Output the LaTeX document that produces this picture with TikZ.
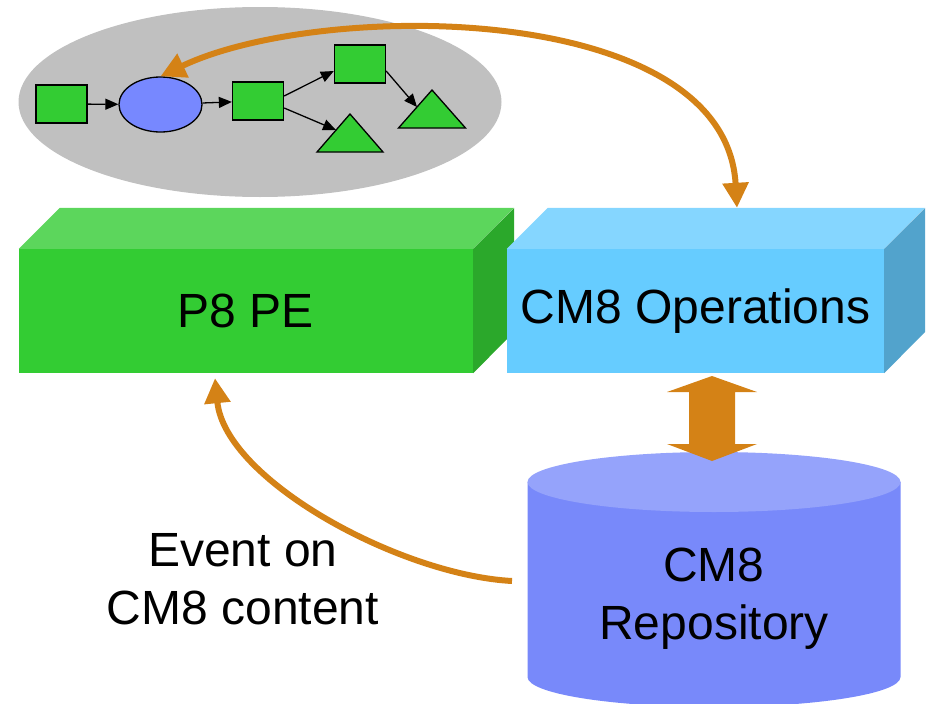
\documentclass[tikz,border=0pt]{standalone}
\usepackage{fontspec}
\setmainfont{Liberation Sans}
\usepackage{tikz}
\usetikzlibrary{positioning,shapes.geometric,arrows.meta,calc}

\definecolor{poolgray}{RGB}{192,192,192}
\definecolor{stepgreen}{RGB}{51,204,51}
\definecolor{evblue}{RGB}{119,136,255}
\definecolor{flowor}{RGB}{212,130,22}
\definecolor{pefront}{RGB}{51,204,51}
\definecolor{petop}{RGB}{92,214,92}
\definecolor{peside}{RGB}{43,168,43}
\definecolor{opsfront}{RGB}{102,204,255}
\definecolor{opstop}{RGB}{133,214,255}
\definecolor{opsside}{RGB}{82,163,204}
\definecolor{dbbody}{RGB}{120,137,250}
\definecolor{dbtop}{RGB}{149,163,251}

\tikzset{
  task/.style={draw, line width=1.3pt, fill=stepgreen, minimum width=51, minimum height=38, inner sep=0},
  link/.style={-{Triangle[length=13pt,width=11pt]}, line width=1.3pt},
  flowarrow/.style={draw=flowor, line width=6pt},
  bigtext/.style={font=\fontsize{48}{58}\selectfont, align=center}
}

\begin{document}
\begin{tikzpicture}[x=1pt,y=-1pt]
\useasboundingbox (0,0) rectangle (927,704);

% process map
\node[ellipse, fill=poolgray, minimum width=483, minimum height=190] (pool) at (260,102) {};
\node[task] (a1) at (61.5,104) {};
\node[ellipse, draw, line width=1.3pt, fill=evblue, minimum width=83, minimum height=55, inner sep=0] (ev) at (160.5,104.5) {};
\node[task] (a2) at (258,101) {};
\node[task] (a3) at (360,64) {};
\coordinate (t1) at (350,114);
\coordinate (t2) at (432,90);
\draw[line width=1.3pt, fill=stepgreen] (t1) -- ++(33,38) -- ++(-66,0) -- cycle;
\draw[line width=1.3pt, fill=stepgreen] (t2) -- ++(33.5,38) -- ++(-67,0) -- cycle;
\draw[link] (a1) -- (ev);
\draw[link] (ev) -- (a2);
\draw[link] ([yshift=5pt]a2.east) -- ([yshift=-7pt]a3.west);
\draw[link] ([yshift=-7pt]a2.east) -- ($(t1)+(-14,16)$);
\draw[link] ([yshift=-7pt]a3.east) -- ($(t2)+(-15,17)$);

% P8 PE box
\node[fill=pefront, minimum width=454, minimum height=124, inner sep=0, bigtext] (pe) at (246,311) {P8 PE};
\fill[petop] (pe.north west) -- ++(41,-41) -- ++(454,0) -- (pe.north east) -- cycle;
\fill[peside] (pe.north east) -- ++(41,-41) -- ++(0,124) -- (pe.south east) -- cycle;

% CM8 Operations box
\node[fill=opsfront, minimum width=377, minimum height=124, inner sep=0, bigtext] (ops) at (695.5,311) {CM8 Operations};
\fill[opstop] (ops.north west) -- ++(41,-41) -- ++(377,0) -- (ops.north east) -- cycle;
\fill[opsside] (ops.north east) -- ++(41,-41) -- ++(0,124) -- (ops.south east) -- cycle;

% repository
\coordinate (db) at (714,482);
\fill[dbbody] (527.5,482) -- (527.5,677) arc[start angle=180, end angle=360, x radius=186.5pt, y radius=30pt] -- (900.5,482) -- cycle;
\fill[dbtop] (db) ellipse[x radius=186.5pt, y radius=30pt];
\node[bigtext] (repo) at (714,599) {CM8\\Repository};

% block arrow ops <-> repository
\fill[flowor] (712,376) -- (757,392) -- (735,392) -- (735,444) -- (757,444) -- (712,461)
  -- (667,444) -- (689,444) -- (689,392) -- (667,392) -- cycle;

% flows
\draw[flowarrow, {Triangle[length=25pt,width=25pt]}-{Triangle[length=25pt,width=25pt]}]
  (ev.north) .. controls (320,0) and (725,0) .. ($(ops.north)+(41.5,-41)$);
\draw[flowarrow, -{Triangle[length=25pt,width=25pt]}]
  ($(db)+(-202,99)$) .. controls (400,575) and (225,480) .. ([xshift=-31pt,yshift=-5pt]pe.south);
\node[bigtext] (evt) at (243,579) {Event on\\CM8 content};
\end{tikzpicture}
\end{document}
